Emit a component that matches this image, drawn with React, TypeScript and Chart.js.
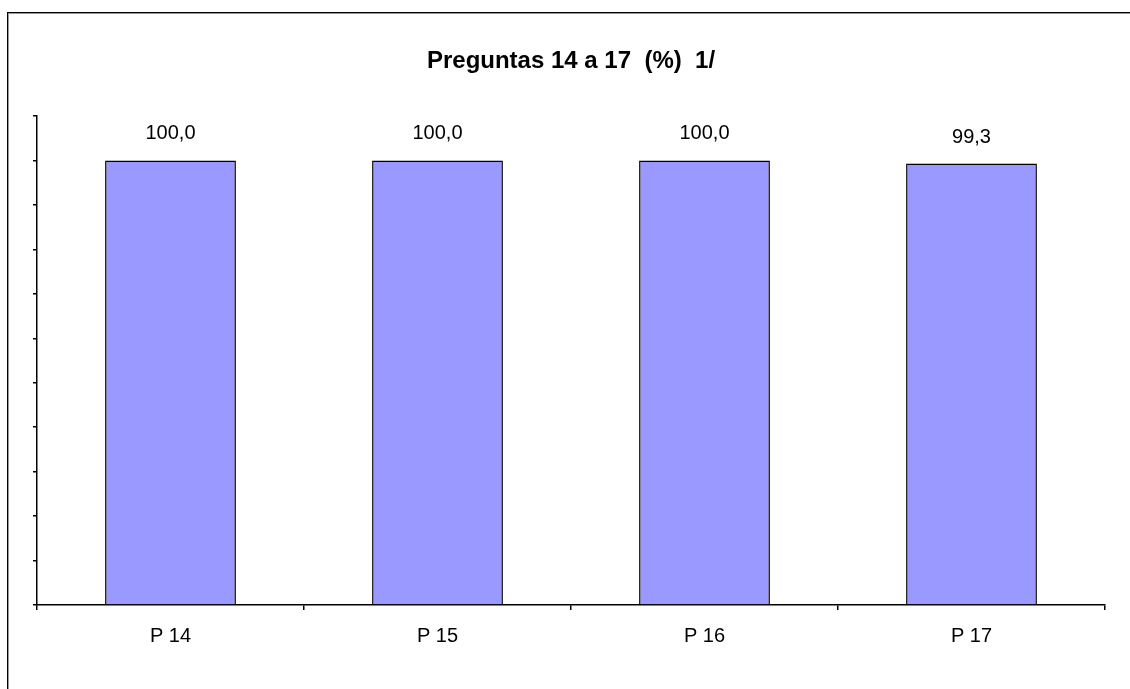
import React, { useEffect, useRef } from "react";
import { Chart, registerables } from "chart.js";

Chart.register(...registerables);

const categories = ["P 14", "P 15", "P 16", "P 17"];
const values = [100.0, 100.0, 100.0, 99.3];
const titleText = "Preguntas 14 a 17  (%)  1/";
const yMin = 0;
const yMax = 110;
const yStep = 10;

const FONT = "'Liberation Sans', Arial, sans-serif";

export default function App() {
  const ref = useRef<HTMLCanvasElement | null>(null);

  useEffect(() => {
    if (!ref.current) return;
    const overlay = {
      id: "overlay",
      afterDraw(chart: any) {
        const ctx = chart.ctx;
        const area = chart.chartArea;
        ctx.save();
        ctx.fillStyle = "#000";
        ctx.textAlign = "center";
        ctx.textBaseline = "alphabetic";
        ctx.font = `bold 24px ${FONT}`;
        ctx.fillText(titleText, (area.left + area.right) / 2, 68);
        ctx.font = `20px ${FONT}`;
        const meta = chart.getDatasetMeta(0);
        meta.data.forEach((bar: any, i: number) => {
          const txt = values[i].toFixed(1).replace(".", ",");
          ctx.fillText(txt, bar.x, bar.y - 21);
        });
        ctx.restore();
      },
    };
    const chart = new Chart(ref.current, {
      type: "bar",
      data: {
        labels: categories,
        datasets: [
          {
            data: values,
            backgroundColor: "#9999FF",
            borderColor: "#000000",
            borderWidth: 1.5,
            categoryPercentage: 1,
            barPercentage: 0.49,
          },
        ],
      },
      options: {
        responsive: false,
        animation: false,
        devicePixelRatio: 1,
        layout: { padding: { left: 33, right: 25, top: 116, bottom: 20 } },
        plugins: {
          legend: { display: false },
          title: { display: false },
          tooltip: { enabled: false },
        },
        scales: {
          x: {
            offset: true,
            grid: {
              offset: true,
              drawOnChartArea: false,
              drawTicks: true,
              tickLength: 5,
              color: "#000",
              lineWidth: 1.5,
            },
            border: { display: true, color: "#000", width: 1.5 },
            ticks: {
              color: "#000",
              padding: 14,
              font: { family: FONT, size: 20 },
            },
            afterFit: (s: any) => {
              s.height = 64;
            },
          },
          y: {
            min: yMin,
            max: yMax,
            grid: {
              drawOnChartArea: false,
              drawTicks: true,
              tickLength: 4,
              color: "#000",
              lineWidth: 1.5,
            },
            border: { display: true, color: "#000", width: 1.5 },
            ticks: { display: false, stepSize: yStep },
            afterFit: (s: any) => {
              s.width = 4;
            },
          },
        },
      },
      plugins: [overlay],
    });
    return () => chart.destroy();
  }, []);

  return (
    <div style={{ position: "fixed", left: 0, top: 0, width: 1130, height: 689, background: "#fff", overflow: "hidden" }}>
      <div
        style={{
          position: "absolute",
          left: 7,
          top: 12,
          width: 1200,
          height: 800,
          borderLeft: "1px solid #000",
          borderTop: "1px solid #000",
          boxShadow: "inset 1px 1px 0 #999",
        }}
      />
      <canvas ref={ref} width={1130} height={689} style={{ position: "absolute", left: 0, top: 0, width: 1130, height: 689 }} />
    </div>
  );
}
